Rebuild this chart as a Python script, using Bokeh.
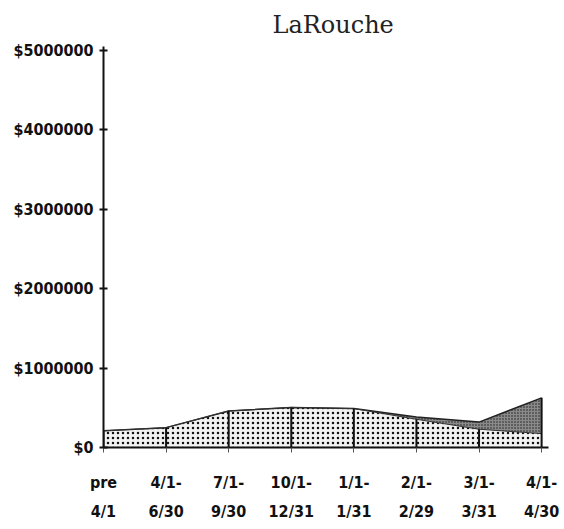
from bokeh.plotting import figure
from bokeh.models import (ColumnDataSource, FixedTicker, LinearAxis, Range1d, Title)
from bokeh.embed import file_html
from bokeh.resources import INLINE

# Reporting periods (two-line tick labels) and amounts in dollars
period_top = ["pre", "4/1-", "7/1-", "10/1-", "1/1-", "2/1-", "3/1-", "4/1-"]
period_bottom = ["4/1", "6/30", "9/30", "12/31", "1/31", "2/29", "3/31", "4/30"]
receipts = [210000, 250000, 460000, 505000, 490000, 355000, 230000, 175000]
additional = [0, 0, 0, 0, 0, 30000, 90000, 450000]
y_ticks = [0, 1000000, 2000000, 3000000, 4000000, 5000000]
y_labels = ["$0", "$1000000", "$2000000", "$3000000", "$4000000", "$5000000"]

xs = list(range(len(period_top)))
total = [a + b for a, b in zip(receipts, additional)]
drop_top = receipts[:-1] + [total[-1]]

src = ColumnDataSource(dict(x=xs, receipts=receipts, total=total,
                            zero=[0] * len(xs), drop_top=drop_top))

LABEL_FONT = "DejaVu Sans Condensed"

p = figure(width=564, height=529, output_backend="svg", toolbar_location=None,
           x_range=Range1d(0, 7.11), y_range=Range1d(0, 5050000),
           min_border_left=103, min_border_right=16, min_border_top=45,
           min_border_bottom=82, x_axis_type=None, y_axis_type=None)
p.outline_line_color = None
p.xgrid.visible = False
p.ygrid.visible = False
p.background_fill_color = "white"
p.border_fill_color = "white"

title = Title(text="LaRouche", align="left", offset=169, standoff=16,
              text_font="DejaVu Serif", text_font_size="24px",
              text_font_style="normal", text_color="#222222")
p.add_layout(title, "above")

# stacked areas: receipts in front, additional amount on top of it
p.varea(x="x", y1="zero", y2="receipts", source=src,
        fill_color="#f2f2f2", hatch_pattern="dot", hatch_color="#111111",
        hatch_scale=5, hatch_weight=2.5)
p.varea(x="x", y1="receipts", y2="total", source=src,
        fill_color="#8a8a8a", hatch_pattern="dot", hatch_color="#1a1a1a",
        hatch_scale=3, hatch_weight=1.5)
p.line(x="x", y="total", source=src, line_color="#222222", line_width=1.5)
p.line(x="x", y="receipts", source=src, line_color="#333333", line_width=1)
p.segment(x0="x", y0="zero", x1="x", y1="drop_top", source=src,
          line_color="#111111", line_width=2)

# y axis
yax = LinearAxis(ticker=FixedTicker(ticks=y_ticks, minor_ticks=[]))
yax.major_label_overrides = {t: l for t, l in zip(y_ticks, y_labels)}
yax.axis_line_color = "#111111"
yax.axis_line_width = 2
yax.major_tick_in = 4
yax.major_tick_out = 4
yax.major_tick_line_width = 2
yax.major_tick_line_color = "#111111"
yax.minor_tick_line_color = None
yax.major_label_standoff = 6
yax.major_label_text_font = LABEL_FONT
yax.major_label_text_font_style = "bold"
yax.major_label_text_font_size = "16px"
yax.major_label_text_color = "#111111"
p.add_layout(yax, "left")

# x axis: first line of each period label
xax = LinearAxis(ticker=FixedTicker(ticks=xs, minor_ticks=[]))
xax.major_label_overrides = {i: l for i, l in enumerate(period_top)}
xax.axis_line_color = "#111111"
xax.axis_line_width = 2
xax.major_tick_in = 0
xax.major_tick_out = 5
xax.major_tick_line_color = "#555555"
xax.minor_tick_line_color = None
xax.major_label_standoff = 20
xax.major_label_text_font = LABEL_FONT
xax.major_label_text_font_style = "bold"
xax.major_label_text_font_size = "16px"
xax.major_label_text_color = "#111111"
p.add_layout(xax, "below")

# second line of each period label
xax2 = LinearAxis(ticker=FixedTicker(ticks=xs, minor_ticks=[]))
xax2.major_label_overrides = {i: l for i, l in enumerate(period_bottom)}
xax2.axis_line_color = None
xax2.major_tick_line_color = None
xax2.major_tick_in = 0
xax2.major_tick_out = 0
xax2.minor_tick_line_color = None
xax2.major_label_standoff = 7
xax2.major_label_text_font = LABEL_FONT
xax2.major_label_text_font_style = "bold"
xax2.major_label_text_font_size = "16px"
xax2.major_label_text_color = "#111111"
p.add_layout(xax2, "below")

open("out.html", "w").write(file_html(p, INLINE))
